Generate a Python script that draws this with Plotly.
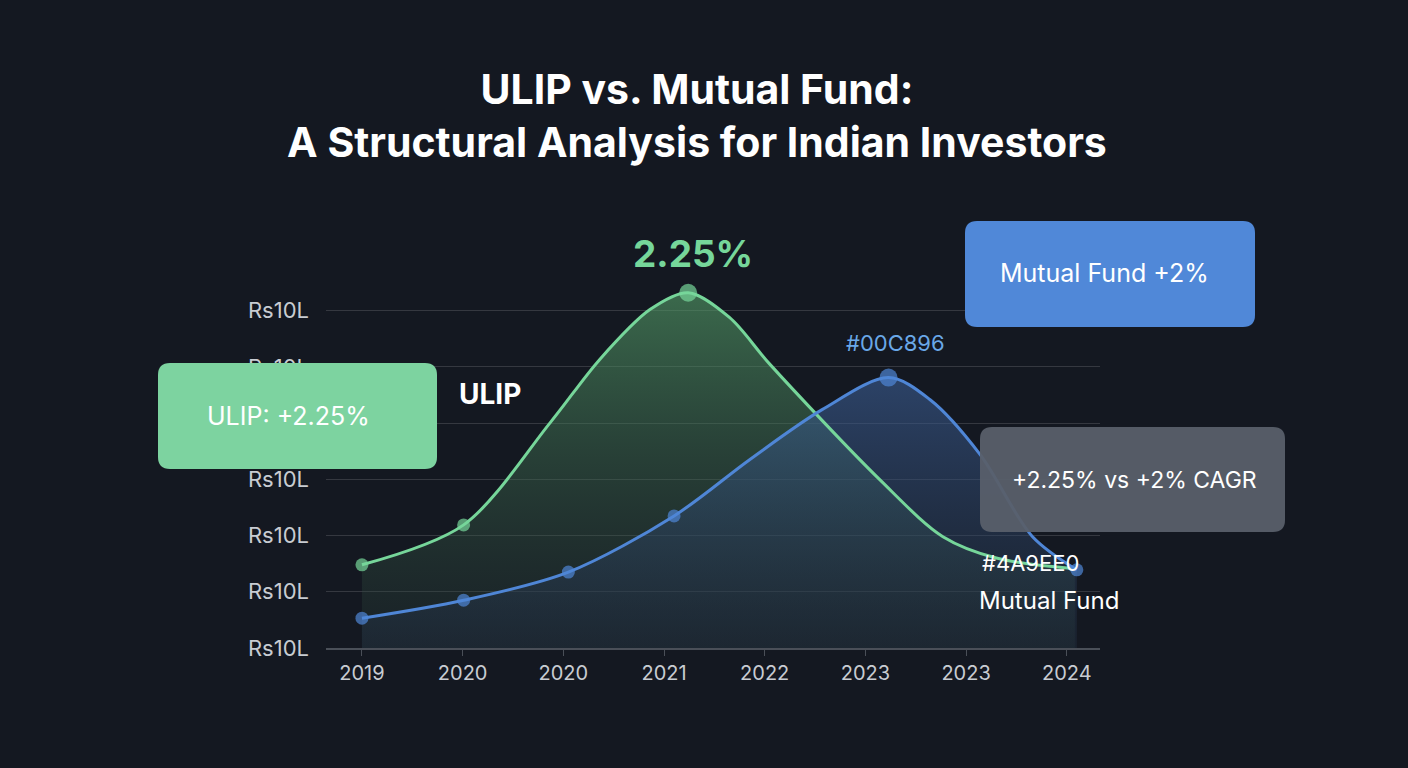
import plotly.graph_objects as go

# Tick labels
x_labels = ['2019', '2020', '2020', '2021', '2022', '2023', '2023', '2024']
x_ticks = [0, 1, 2, 3, 4, 5, 6, 7]
y_ticks = [0, 1, 2, 3, 4, 5, 6]
y_labels = ['Rs10L'] * 7

# ULIP series (markers only where the picture shows them)
ulip_x = [0, 1.01, 1.87, 2.36, 2.86, 3.24, 3.65, 4.05, 5.14, 5.77, 6.3, 7.08]
ulip_y = [1.48, 2.19, 4.01, 5.13, 6.02, 6.32, 5.88, 5.05, 3.0, 1.98, 1.6, 1.41]
ulip_marker = [13, 13, 0, 0, 0, 18, 0, 0, 0, 0, 0, 0]

# Mutual Fund series
mf_x = [0, 1.01, 2.05, 3.10, 3.85, 4.57, 5.23, 5.64, 6.14, 6.66, 7.10]
mf_y = [0.53, 0.85, 1.35, 2.35, 3.35, 4.24, 4.81, 4.42, 3.44, 1.98, 1.39]
mf_marker = [13, 13, 13, 13, 0, 0, 18, 0, 0, 0, 13]

BG = '#141821'
GREEN = '#76d69a'
BLUE = '#4f86d6'
FONT = 'Inter'

W, H = 1408, 768
L, R, T, B = 326, 308, 277, 120
PW, PH = W - L - R, H - T - B


def px(x):
    return (x - L) / PW


def py(y):
    return (H - B - y) / PH


def rounded_box(x0, y0, x1, y1, r=12):
    """Rounded rectangle path in paper coords from pixel corners."""
    rx, ry = r / PW, r / PH
    a, b = px(x0), px(x1)
    top, bot = py(y0), py(y1)
    return (f'M {a + rx},{top} L {b - rx},{top} Q {b},{top} {b},{top - ry} '
            f'L {b},{bot + ry} Q {b},{bot} {b - rx},{bot} '
            f'L {a + rx},{bot} Q {a},{bot} {a},{bot + ry} '
            f'L {a},{top - ry} Q {a},{top} {a + rx},{top} Z')


fig = go.Figure()

# Fills first so both lines sit on top
fig.add_trace(go.Scatter(
    x=ulip_x, y=ulip_y, mode='lines', fill='tozeroy',
    line=dict(width=0, shape='spline', smoothing=0.9),
    fillgradient=dict(type='vertical', start=0, stop=6.32,
                      colorscale=[[0, 'rgba(40,60,55,0.25)'],
                                  [1, 'rgba(85,160,105,0.6)']]),
    hoverinfo='skip', showlegend=False
))
fig.add_trace(go.Scatter(
    x=mf_x, y=mf_y, mode='lines', fill='tozeroy',
    line=dict(width=0, shape='spline', smoothing=0.9),
    fillgradient=dict(type='vertical', start=0, stop=4.81,
                      colorscale=[[0, 'rgba(35,50,70,0.35)'],
                                  [1, 'rgba(60,95,150,0.6)']]),
    hoverinfo='skip', showlegend=False
))

fig.add_trace(go.Scatter(
    x=ulip_x, y=ulip_y, mode='lines+markers', name='ULIP',
    line=dict(color=GREEN, width=3, shape='spline', smoothing=0.9),
    marker=dict(color=GREEN, size=ulip_marker, line=dict(width=0)),
    showlegend=False
))
fig.add_trace(go.Scatter(
    x=mf_x, y=mf_y, mode='lines+markers', name='Mutual Fund',
    line=dict(color=BLUE, width=3, shape='spline', smoothing=0.9),
    marker=dict(color=BLUE, size=mf_marker, line=dict(width=0)),
    showlegend=False
))

shapes = [
    dict(type='path', xref='paper', yref='paper', layer='above',
         path=rounded_box(158, 363, 437, 469), fillcolor='#7dd3a0',
         line=dict(width=0)),
    dict(type='path', xref='paper', yref='paper', layer='above',
         path=rounded_box(965, 221, 1255, 327), fillcolor='#5088d8',
         line=dict(width=0)),
    dict(type='path', xref='paper', yref='paper', layer='above',
         path=rounded_box(980, 427, 1285, 532), fillcolor='rgba(88,95,106,0.95)',
         line=dict(width=0)),
]


def label(text, x, y, size, color='white', bold=False):
    return dict(text=f'<b>{text}</b>' if bold else text,
                xref='paper', yref='paper', x=px(x), y=py(y),
                xanchor='center', yanchor='middle', showarrow=False,
                font=dict(family=FONT, size=size, color=color))


annotations = [
    label('ULIP: +2.25%', 288, 416, 25),
    label('Mutual Fund +2%', 1104, 273, 25),
    label('+2.25% vs +2% CAGR', 1134, 480, 23),
    label('ULIP', 490, 394, 28, bold=True),
    label('2.25%', 693, 254, 37, color=GREEN, bold=True),
    label('#00C896', 895, 343, 22, color='#6aa8e8'),
    label('#4A9EE0', 1030, 563, 22),
    label('Mutual Fund', 1049, 600, 24),
]

fig.update_layout(
    width=W, height=H,
    margin=dict(l=L, r=R, t=T, b=B),
    paper_bgcolor=BG, plot_bgcolor=BG,
    font=dict(family=FONT, color='#c8ccd2', size=20),
    title=dict(text='<b>ULIP vs. Mutual Fund:<br>A Structural Analysis for Indian Investors</b>',
               x=0.495, xanchor='center', y=0.865, yanchor='middle',
               font=dict(family=FONT, size=41, color='white')),
    shapes=shapes,
    annotations=annotations,
)

fig.update_xaxes(
    range=[-0.357, 7.33], tickvals=x_ticks, ticktext=x_labels,
    showgrid=False, zeroline=False,
    showline=True, linecolor='#4a4f58', linewidth=2,
    ticks='outside', ticklen=6, tickcolor='#4a4f58',
    tickfont=dict(size=20, color='#c8ccd2'),
)
fig.update_yaxes(
    range=[0, 6.6], tickvals=y_ticks, ticktext=y_labels,
    showgrid=True, gridcolor='rgba(255,255,255,0.14)', gridwidth=1,
    zeroline=False, showline=False, ticklabelstandoff=16,
    tickfont=dict(size=22, color='#c8ccd2'),
)

fig.write_html('out.html', config={'displayModeBar': False},
               post_script=f"document.body.style.margin='0';document.body.style.background='{BG}';")
